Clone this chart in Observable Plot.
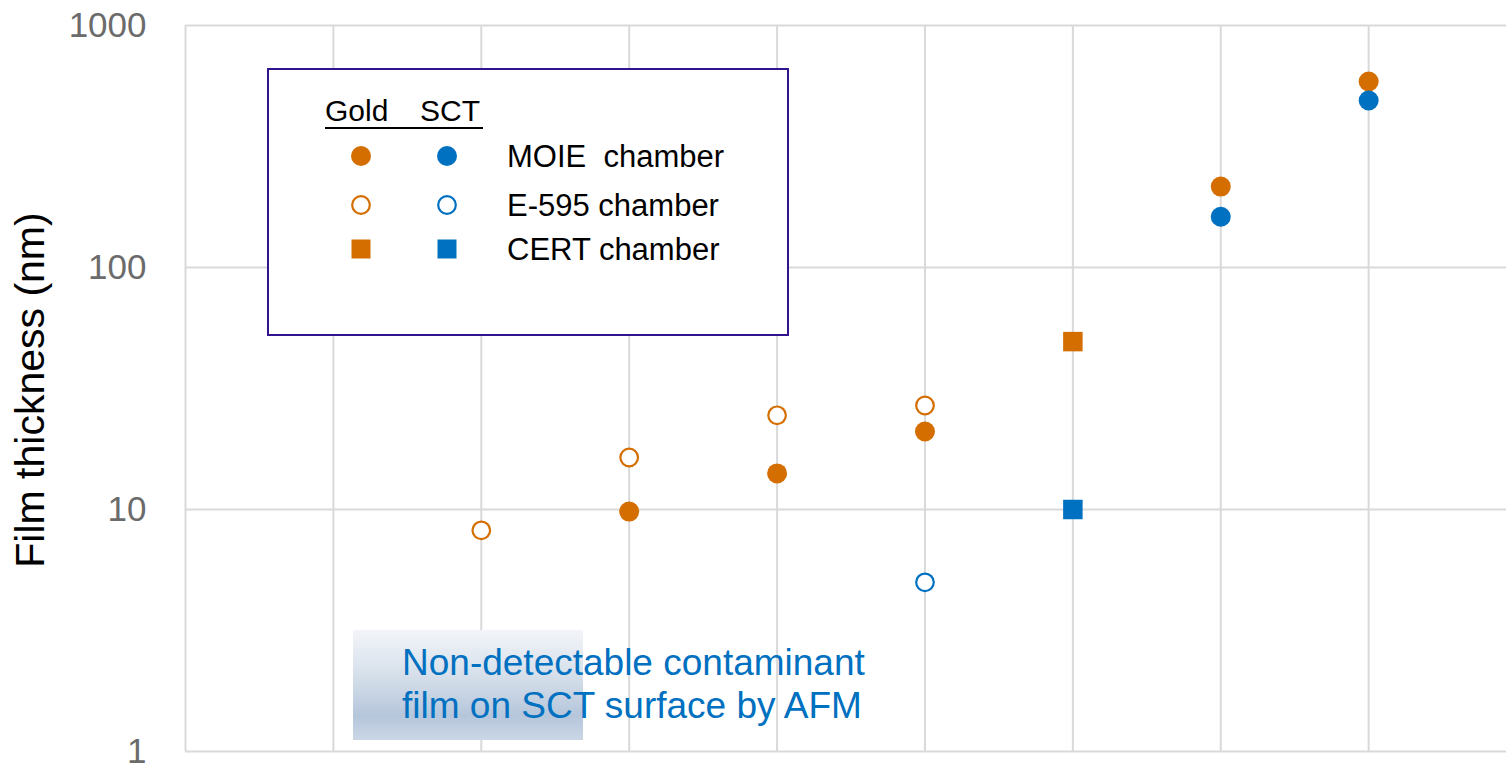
<!DOCTYPE html>
<html>
<head>
<meta charset="utf-8">
<script src="https://cdn.jsdelivr.net/npm/d3@7"></script>
<script src="https://cdn.jsdelivr.net/npm/@observablehq/plot@0.6"></script>
<style>
  html, body { margin: 0; padding: 0; background: #fff; }
  #chart { position: relative; width: 1506px; height: 764px; }
</style>
</head>
<body>
<div id="chart"></div>
<script>
// ---- data ----
const goldMOIE_x = [3, 4, 5, 7, 8];
const goldMOIE   = [9.8, 14.1, 21.0, 216, 587];
const goldE595_x = [2, 3, 4, 5];
const goldE595   = [8.2, 16.4, 24.5, 26.9];
const goldCERT_x = [6];
const goldCERT   = [49.4];
const sctMOIE_x  = [7, 8];
const sctMOIE    = [162, 490];
const sctE595_x  = [5];
const sctE595    = [5.0];
const sctCERT_x  = [6];
const sctCERT    = [10];

const yTicks = [1, 10, 100, 1000];
const xGrid = [0, 1, 2, 3, 4, 5, 6, 7, 8];

const yLabel = "Film thickness (nm)";
const legendHeader = ["Gold", "SCT"];
const legendRows = ["MOIE  chamber", "E-595 chamber", "CERT chamber"];
const note = ["Non-detectable contaminant", "film on SCT surface by AFM"];

const ORANGE = "#D46E00";
const BLUE = "#0070C0";
const FONT = "'Liberation Sans', Arial, Helvetica, sans-serif";

const pts = (xs, ys) => xs.map((x, i) => ({x, y: ys[i]}));

const svg = Plot.plot({
  width: 1506,
  height: 764,
  marginLeft: 185,
  marginRight: 0,
  marginTop: 25,
  marginBottom: 13,
  style: {fontFamily: FONT, background: "#fff", overflow: "visible"},
  x: {domain: [0, 8.932], axis: null},
  y: {type: "log", domain: [1, 1000], axis: null},
  marks: [
    Plot.gridX(xGrid, {stroke: "#d9d9d9", strokeOpacity: 1, strokeWidth: 2}),
    Plot.gridY(yTicks, {stroke: "#d9d9d9", strokeOpacity: 1, strokeWidth: 2}),
    Plot.axisY(yTicks, {tickFormat: d => String(d), tickSize: 0, tickPadding: 39, fontSize: 35, color: "#6b6b6b", label: null}),
    // Gold
    Plot.dot(pts(goldE595_x, goldE595), {x: "x", y: "y", r: 8.8, stroke: ORANGE, strokeWidth: 2.2, fill: "#fff"}),
    Plot.dot(pts(goldMOIE_x, goldMOIE), {x: "x", y: "y", r: 10, fill: ORANGE}),
    Plot.dot(pts(goldCERT_x, goldCERT), {x: "x", y: "y", r: 11, symbol: "square", fill: ORANGE}),
    // SCT
    Plot.dot(pts(sctE595_x, sctE595), {x: "x", y: "y", r: 8.8, stroke: BLUE, strokeWidth: 2.2, fill: "#fff"}),
    Plot.dot(pts(sctMOIE_x, sctMOIE), {x: "x", y: "y", r: 10, fill: BLUE}),
    Plot.dot(pts(sctCERT_x, sctCERT), {x: "x", y: "y", r: 11, symbol: "square", fill: BLUE})
  ]
});

document.getElementById("chart").appendChild(svg);

const s = d3.select(svg);

// y-axis title
s.append("text")
  .attr("transform", "translate(44,390) rotate(-90)")
  .attr("text-anchor", "middle")
  .attr("font-family", FONT)
  .attr("font-size", 41)
  .attr("fill", "#000")
  .text(yLabel);

// annotation box with gradient
const defs = s.append("defs");
const grad = defs.append("linearGradient").attr("id", "ndGrad").attr("x1", 0).attr("y1", 0).attr("x2", 0).attr("y2", 1);
grad.append("stop").attr("offset", "0").attr("stop-color", "#f3f5f9");
grad.append("stop").attr("offset", "0.45").attr("stop-color", "#d3dde9");
grad.append("stop").attr("offset", "0.78").attr("stop-color", "#b5c6db");
grad.append("stop").attr("offset", "1").attr("stop-color", "#cbd7e6");
s.append("rect").attr("x", 353).attr("y", 630).attr("width", 230).attr("height", 110).attr("fill", "url(#ndGrad)");
note.forEach((t, i) => {
  s.append("text")
    .attr("x", 402).attr("y", 675 + i * 43)
    .attr("text-anchor", "start")
    .attr("font-family", FONT).attr("font-size", 37)
    .attr("fill", BLUE)
    .text(t);
});

// legend
const lg = s.append("g").attr("text-anchor", "start");
lg.append("rect").attr("x", 268).attr("y", 69).attr("width", 520).attr("height", 266)
  .attr("fill", "#fff").attr("stroke", "#33148F").attr("stroke-width", 2);
lg.append("text").attr("x", 325).attr("y", 121).attr("text-anchor", "start").attr("font-family", FONT).attr("font-size", 30).attr("fill", "#000").text(legendHeader[0]);
lg.append("text").attr("x", 420).attr("y", 121).attr("text-anchor", "start").attr("font-family", FONT).attr("font-size", 30).attr("fill", "#000").text(legendHeader[1]);
lg.append("line").attr("x1", 325).attr("x2", 483).attr("y1", 128).attr("y2", 128).attr("stroke", "#000").attr("stroke-width", 2);

const rowY = [156, 205, 249];
const colX = [361, 447];
const cols = [ORANGE, BLUE];
cols.forEach((c, j) => {
  lg.append("circle").attr("cx", colX[j]).attr("cy", rowY[0]).attr("r", 10).attr("fill", c);
  lg.append("circle").attr("cx", colX[j]).attr("cy", rowY[1]).attr("r", 8.8).attr("fill", "#fff").attr("stroke", c).attr("stroke-width", 2.2);
  lg.append("rect").attr("x", colX[j] - 9.5).attr("y", rowY[2] - 9.5).attr("width", 19).attr("height", 19).attr("fill", c);
});
legendRows.forEach((t, i) => {
  lg.append("text").attr("x", 507).attr("y", rowY[i] + 11)
    .attr("text-anchor", "start")
    .attr("font-family", FONT).attr("font-size", 31).attr("fill", "#000")
    .attr("xml:space", "preserve").style("white-space", "pre")
    .text(t);
});
</script>
</body>
</html>
